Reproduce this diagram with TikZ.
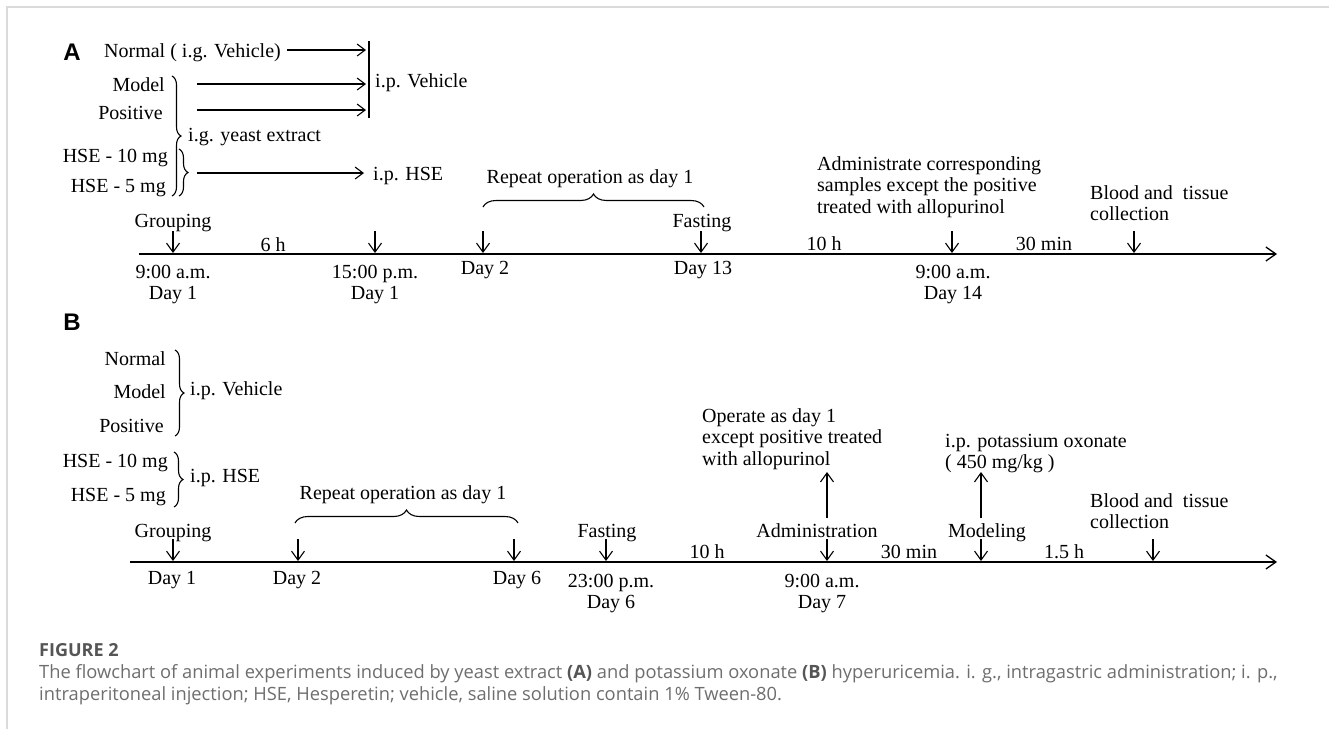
\documentclass[tikz,border=0pt]{standalone}
\usepackage{fontspec}
\setmainfont{Liberation Serif}
\newfontfamily\capfont{Open Sans}
\newfontfamily\panelfont{Liberation Sans}
\usetikzlibrary{arrows.meta,decorations.pathreplacing}
\definecolor{framegray}{HTML}{DADADA}
\definecolor{capdark}{HTML}{555555}
\definecolor{captext}{HTML}{6E6E6E}
\begin{document}
\begin{tikzpicture}[x=1pt,y=-1pt,
  lbl/.style={inner sep=0pt, font=\fontsize{20}{21.5}\selectfont, anchor=base},
  lw/.style={lbl, anchor=base west},
  le/.style={lbl, anchor=base east},
  panel/.style={inner sep=0pt, font=\panelfont\bfseries\fontsize{24}{24}\selectfont},
  arr/.style={line width=1.1pt, -{Straight Barb[length=8pt,width=12pt,line width=1.1pt]}},
  tick/.style={line width=1.1pt, -{Straight Barb[length=9pt,width=13pt,line width=1.1pt]}},
  axis/.style={line width=1.5pt, -{Straight Barb[length=10pt,width=14pt,line width=1.3pt]}},
  vbar/.style={line width=1.5pt},
  vbrace/.style={line width=1.1pt, decorate, decoration={brace, amplitude=9pt}},
  hbrace/.style={line width=1.1pt, decorate, decoration={brace, amplitude=13pt}},
  captxt/.style={inner sep=0pt, anchor=base west, font=\capfont\fontsize{18.3}{22}\selectfont, text=captext},
]
\path[use as bounding box, fill=white] (0,0) rectangle (1329,729);
\coordinate (fr1) at (7,729);
\coordinate (fr2) at (7,7);
\coordinate (fr3) at (1329,7);
\draw[framegray, line width=1.6pt] (fr1) -- (fr2) -- (fr3);

% ---------------- Panel A ----------------
\node[panel] (pA) at (72,52) {A};
\node[lw] (aNorm) at (104,57) {Normal ( i.g. Vehicle)};
\node[le] (aModel) at (165,91) {Model};
\node[le] (aPos) at (163,119) {Positive};
\node[le] (aH10) at (168,162) {HSE - 10 mg};
\node[le] (aH5) at (166,192) {HSE - 5 mg};
\node[lw] (aIG) at (188,141) {i.g. yeast extract};
\node[lw] (aIPV) at (375,87) {i.p. Vehicle};
\node[lw] (aIPH) at (373,180) {i.p. HSE};

\coordinate (aN1) at (287,50); \coordinate (aN2) at (366,50);
\coordinate (aM1) at (197,84); \coordinate (aM2) at (366,84);
\coordinate (aP1) at (197,110); \coordinate (aP2) at (366,110);
\coordinate (aH1) at (197,173); \coordinate (aH2) at (364,173);
\draw[arr] (aN1) -- (aN2);
\draw[arr] (aM1) -- (aM2);
\draw[arr] (aP1) -- (aP2);
\draw[arr] (aH1) -- (aH2);
\coordinate (aVb1) at (369,41); \coordinate (aVb2) at (369,118);
\draw[vbar] (aVb1) -- (aVb2);

\coordinate (aBr1) at (172,76); \coordinate (aBr2) at (172,196);
\draw[vbrace] (aBr1) -- (aBr2);
\coordinate (aBs1) at (179,149); \coordinate (aBs2) at (179,196);
\draw[vbrace] (aBs1) -- (aBs2);

% timeline A
\coordinate (aT0) at (139,254); \coordinate (aT1) at (1277,254);
\draw[axis] (aT0) -- (aT1);
\foreach \n/\x in {1/173,2/375,3/483,4/701,5/952,6/1134}{
  \coordinate (aK\n u) at (\x,231);
  \coordinate (aK\n) at (\x,253);
  \draw[tick] (aK\n u) -- (aK\n);
}
\node[lbl] (aGroup) at (173,227) {Grouping};
\node[lbl] (a6h) at (273,251) {6 h};
\node[lbl] (aD1) at (173,278) {\begin{tabular}[t]{@{}c@{}}9:00 a.m.\\Day 1\end{tabular}};
\node[lbl] (aD1b) at (375,278) {\begin{tabular}[t]{@{}c@{}}15:00 p.m.\\Day 1\end{tabular}};
\node[lbl] (aD2) at (485,274) {Day 2};
\coordinate (aRb1) at (483,207); \coordinate (aRb2) at (704,207);
\draw[hbrace] (aRb1) -- (aRb2);
\node[lbl] (aRep) at (590,183) {Repeat operation as day 1};
\node[lbl] (aFast) at (702,227) {Fasting};
\node[lbl] (aD13) at (703,274) {Day 13};
\node[lbl] (a10h) at (824,250) {10 h};
\node[lw] (aAdm) at (817,170) {\begin{tabular}[t]{@{}l@{}}Administrate corresponding\\samples except the positive\\treated with allopurinol\end{tabular}};
\node[lbl] (aD14) at (953,278) {\begin{tabular}[t]{@{}c@{}}9:00 a.m.\\Day 14\end{tabular}};
\node[lbl] (a30) at (1044,250) {30 min};
\node[lw] (aBlood) at (1090,199) {\begin{tabular}[t]{@{}l@{}}Blood and\ \ tissue\\collection\end{tabular}};

% ---------------- Panel B ----------------
\node[panel] (pB) at (72,322) {B};
\node[le] (bNorm) at (166,365) {Normal};
\node[le] (bModel) at (166,398) {Model};
\node[le] (bPos) at (164,432) {Positive};
\node[lw] (bIPV) at (190,395) {i.p. Vehicle};
\node[le] (bH10) at (168,467) {HSE - 10 mg};
\node[le] (bH5) at (166,501) {HSE - 5 mg};
\node[lw] (bIPH) at (190,482) {i.p. HSE};
\coordinate (bBr1) at (175,350); \coordinate (bBr2) at (175,436);
\draw[vbrace] (bBr1) -- (bBr2);
\coordinate (bBs1) at (174,452); \coordinate (bBs2) at (174,507);
\draw[vbrace] (bBs1) -- (bBs2);

\coordinate (bT0) at (130,562); \coordinate (bT1) at (1277,562);
\draw[axis] (bT0) -- (bT1);
\foreach \n/\x in {1/173,2/298,3/514,4/606,5/827,6/981,7/1153}{
  \coordinate (bK\n u) at (\x,539);
  \coordinate (bK\n) at (\x,561);
  \draw[tick] (bK\n u) -- (bK\n);
}
\node[lbl] (bRep) at (403,499) {Repeat operation as day 1};
\coordinate (bRb1) at (295,523); \coordinate (bRb2) at (518,523);
\draw[hbrace] (bRb1) -- (bRb2);
\node[lbl] (bGroup) at (173,537) {Grouping};
\node[lbl] (bD1) at (172,584) {Day 1};
\node[lbl] (bD2) at (297,584) {Day 2};
\node[lbl] (bD6) at (517,584) {Day 6};
\node[lbl] (bFast) at (607,537) {Fasting};
\node[lbl] (bT23) at (611,587) {\begin{tabular}[t]{@{}c@{}}23:00 p.m.\\Day 6\end{tabular}};
\node[lbl] (b10h) at (707,558) {10 h};
\node[lbl] (bAdm) at (817,537) {Administration};
\node[lbl] (bT9) at (822,587) {\begin{tabular}[t]{@{}c@{}}9:00 a.m.\\Day 7\end{tabular}};
\node[lw] (bOp) at (702,422) {\begin{tabular}[t]{@{}l@{}}Operate as day 1\\except positive treated\\with allopurinol\end{tabular}};
\coordinate (bU1a) at (827,518); \coordinate (bU1b) at (827,472);
\draw[tick] (bU1a) -- (bU1b);
\node[lbl] (b30) at (909,558) {30 min};
\node[lbl] (bMod) at (987,537) {Modeling};
\coordinate (bU2a) at (981,518); \coordinate (bU2b) at (981,472);
\draw[tick] (bU2a) -- (bU2b);
\node[lw] (bPO) at (945,447) {\begin{tabular}[t]{@{}l@{}}i.p. potassium oxonate\\( 450 mg/kg )\end{tabular}};
\node[lbl] (b15) at (1064,558) {1.5 h};
\node[lw] (bBlood) at (1090,507) {\begin{tabular}[t]{@{}l@{}}Blood and\ \ tissue\\collection\end{tabular}};

% ---------------- Caption ----------------
\node[captxt, text=capdark, font=\capfont\bfseries\fontsize{18}{22}\selectfont] (capT) at (39,656) {FIGURE 2};
\node[captxt] (cap1) at (39,678) {The flowchart of animal experiments induced by yeast extract {\color{capdark}\bfseries(A)} and potassium oxonate {\color{capdark}\bfseries(B)} hyperuricemia. i. g., intragastric administration; i. p.,};
\node[captxt] (cap2) at (39,700) {intraperitoneal injection; HSE, Hesperetin; vehicle, saline solution contain 1\% Tween-80.};
\end{tikzpicture}
\end{document}
